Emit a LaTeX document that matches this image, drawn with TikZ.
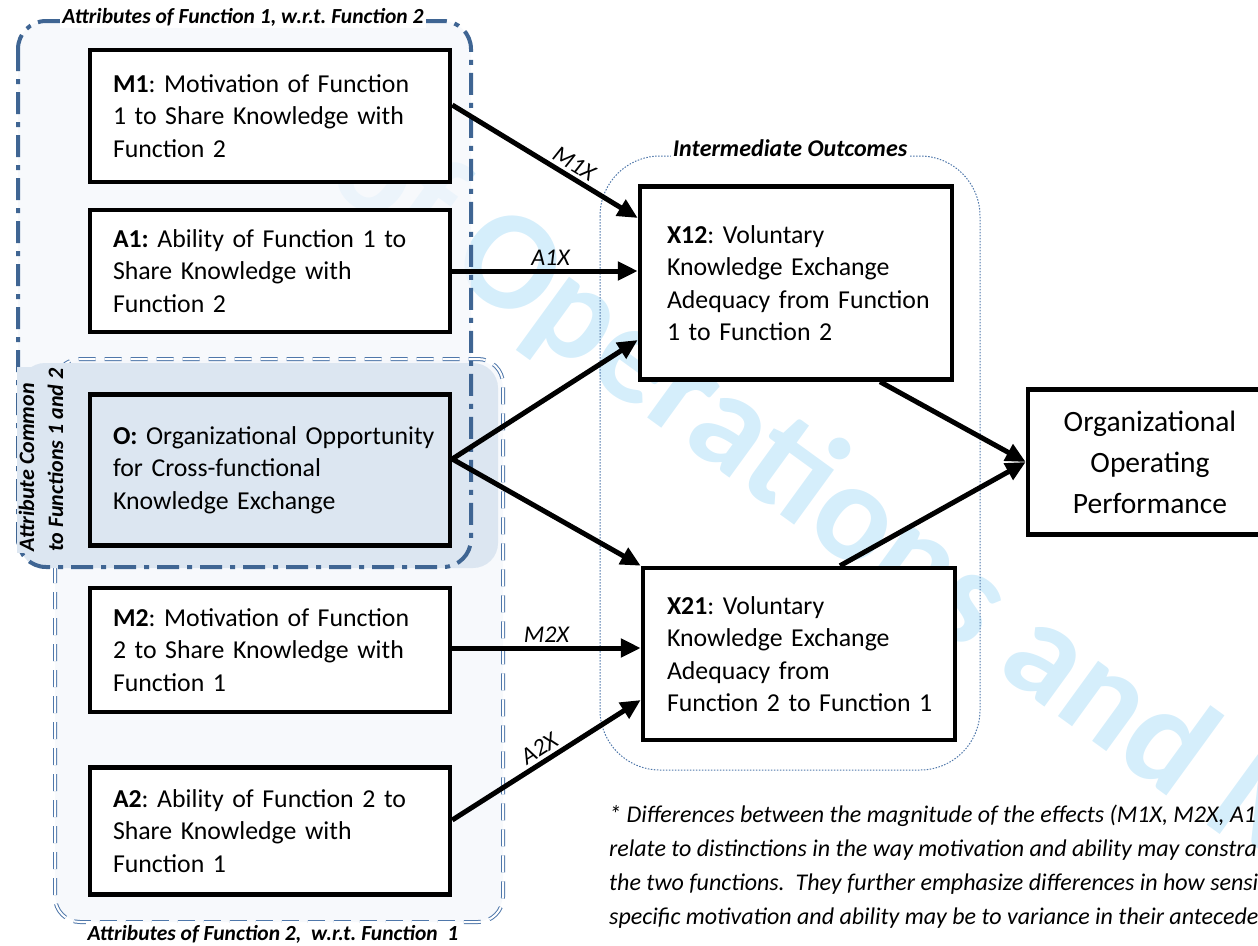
\documentclass[tikz,border=0pt]{standalone}
\usepackage{fontspec}
\setmainfont{Carlito}
\usetikzlibrary{arrows.meta}
\definecolor{grpblue}{RGB}{63,101,147}
\definecolor{outblue}{RGB}{79,119,170}
\definecolor{cmnfill}{RGB}{220,230,241}
\definecolor{grpfill}{RGB}{244,247,251}
\definecolor{wmark}{RGB}{213,238,251}
\frenchspacing

\begin{document}
\begin{tikzpicture}[x=1pt,y=-1pt,
  frame/.style={draw,line width=4.5pt,fill=white,inner xsep=5pt},
  box/.style={frame,text width=350pt,align=left,
    execute at begin node={\hyphenpenalty=10000\leftskip=18pt},
    font=\fontsize{25.8}{32.5}\selectfont},
  outbox/.style={frame,text width=302pt,align=left,
    execute at begin node={\hyphenpenalty=10000\leftskip=#1},
    font=\fontsize{25.8}{32.5}\selectfont},
  conn/.style={line width=5pt,-{Triangle[length=20pt,width=18pt]}},
  effect/.style={font=\fontsize{24}{26}\selectfont\itshape,above,sloped,pos=.6},
  grptitle/.style={font=\fontsize{21.5}{26}\selectfont\bfseries\itshape,fill=white,inner sep=2pt}]
\useasboundingbox (0,0) rectangle (1258,945);
\clip (0,0) rectangle (1258,945);

% watermark
\node[anchor=base west,rotate=-36,text=wmark,inner sep=0,
  font=\fontsize{141}{141}\selectfont\bfseries] (wm) at (322,182) {of Operations and M};

% groups
\fill[grpfill,fill opacity=.75,rounded corners=28pt] (55,360) rectangle (503,922);
\fill[grpfill,fill opacity=.75,rounded corners=28pt] (18,21) rectangle (471,567);
\draw[outblue,line width=1pt,double=white,double distance=2pt,dash pattern=on 17pt off 9pt,
  rounded corners=25pt] (55,359) rectangle (503,922);
\fill[cmnfill,rounded corners=25pt] (20,363) rectangle (498,568);
\draw[grpblue,line width=4pt,dash pattern=on 22pt off 8pt on 5pt off 8pt,
  rounded corners=28pt] (18,21) rectangle (471,567);
\draw[outblue,line width=1pt,dash pattern=on 1.5pt off 1.5pt,rounded corners=60pt]
  (600,156) rectangle (980,770);

\node[fill=cmnfill,rotate=90,align=left,inner sep=2pt,
  font=\fontsize{22}{29}\selectfont\bfseries\itshape] (cmn) at (41,460) {Attribute Common\\to Functions 1 and 2};
\node[grptitle] (t1) at (243,17) {Attributes of Function 1, w.r.t. Function 2};
\node[grptitle] (t2) at (273,934) {Attributes of Function 2,~ w.r.t. Function~ 1};
\node[grptitle,font=\fontsize{24}{28}\selectfont\bfseries\itshape] (t3) at (790,148) {Intermediate Outcomes};

% boxes
\node[box,minimum height=132pt] (M1) at (270,116) {\textbf{M1}: Motivation of Function\\1 to Share Knowledge with\\Function 2};
\node[box,minimum height=122pt] (A1) at (270,271) {\textbf{A1:} Ability of Function 1 to\\Share Knowledge with\\Function 2};
\node[box,fill=cmnfill,minimum height=151pt] (O) at (270,470) {\textbf{O:} Organizational Opportunity\\for Cross-functional\\Knowledge Exchange};
\node[box,minimum height=124pt] (M2) at (270,650) {\textbf{M2}: Motivation of Function\\2 to Share Knowledge with\\Function 1};
\node[box,minimum height=127pt] (A2) at (270,831) {\textbf{A2}: Ability of Function 2 to\\Share Knowledge with\\Function 1};
\node[outbox=22pt,minimum height=193pt] (X12) at (796,283) {\textbf{X12}: Voluntary\\Knowledge Exchange\\Adequacy from Function\\1 to Function 2};
\node[outbox=19pt,minimum height=172pt] (X21) at (799,654) {\textbf{X21}: Voluntary\\Knowledge Exchange\\Adequacy from\\Function 2 to Function 1};
\node[frame,text width=234pt,align=center,minimum height=145pt,
  font=\fontsize{29.5}{41}\selectfont] (OOP) at (1150,462) {Organizational\\Operating\\Performance};

% effects
\draw[conn] ([yshift=11pt]M1.east) -- ([yshift=65pt]X12.west) node[effect,pos=.62]{M1X};
\draw[conn] (A1.east) -- (A1.east -| X12.west) node[effect,pos=.53]{A1X};
\draw[conn] ([yshift=11pt]O.east) -- ([yshift=-57pt]X12.west);
\draw[conn] ([yshift=11pt]O.east) -- (X21.north west);
\draw[conn] ([yshift=2pt]M2.east) -- ([yshift=2pt]M2.east -| X21.west) node[effect,pos=.5]{M2X};
\draw[conn] ([yshift=11pt]A2.east) -- ([yshift=-46pt]X21.west) node[effect,pos=.5]{A2X};
\draw[conn] ([xshift=84pt]X12.south) -- (OOP.west);
\draw[conn] ([xshift=41pt]X21.north) -- (OOP.west);

\node[anchor=north west,align=left,inner sep=0,font=\fontsize{24}{34}\selectfont\itshape] (note) at (609,805)
  {* Differences between the magnitude of the effects (M1X, M2X, A1\\
   relate to distinctions in the way motivation and ability may constra\\
   the two functions.~ They further emphasize differences in how sensi\\
   specific motivation and ability may be to variance in their antecede};
\end{tikzpicture}
\end{document}
